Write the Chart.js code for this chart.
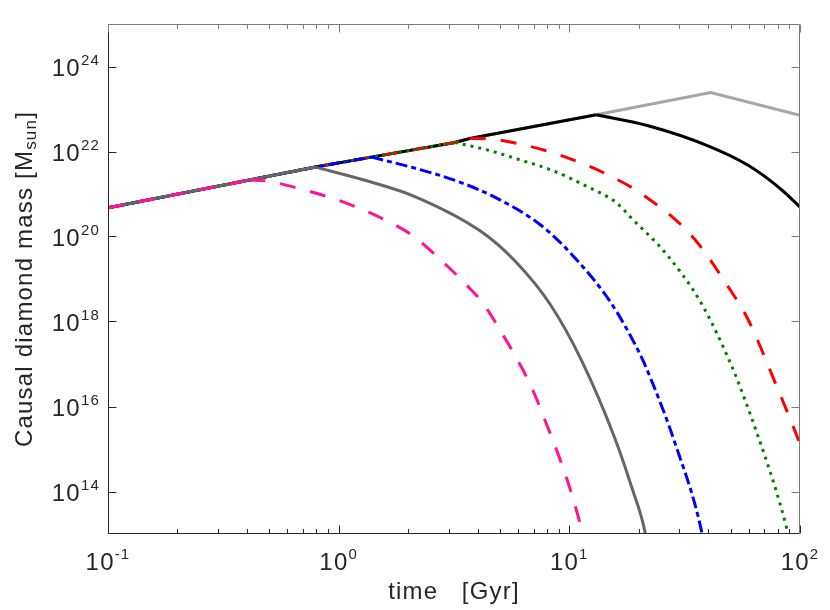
<!DOCTYPE html>
<html>
<head>
<meta charset="utf-8">
<script src="https://cdn.jsdelivr.net/npm/chart.js@4.4.1/dist/chart.umd.min.js"></script>
<style>
	html, body { margin: 0; padding: 0; background: #fff; }
	#wrap { width: 830px; height: 610px; }
</style>
</head>
<body>
<div id="wrap"><canvas id="chartMass" width="830" height="610"></canvas></div>
<script>
// Shared rising branch (time in Gyr, mass in M_sun)
const riseT = [0.1, 0.41, 0.793, 1.387, 3.19, 3.7, 13.1];
const riseM = [4.73e20, 2.13e21, 4.3e21, 7.38e21, 1.63e22, 2.03e22, 7.3e22];

// Falling branches
const pinkT = [0.478, 0.678, 0.943, 1.272, 1.717, 2.096, 2.972, 3.63, 4.22, 5.15, 6.29, 7.09, 7.83, 8.83, 9.85, 10.9, 11.2, 11.5, 11.8];
const pinkM = [2.05e21, 1.33e21, 7.9e20, 4.25e20, 1.99e20, 1.04e20, 1.97e19, 6.7e18, 2.71e18, 4.87e17, 7.3e16, 1.88e16, 4.86e15, 9.1e14, 1.69e14, 2.7e13, 1.56e13, 9.6e12, 5.5e12];

const grayT = [1.276, 2.138, 4.16, 5.8, 8.23, 11.29, 15.75, 18.61, 21.26, 21.7];
const grayM = [2.16e21, 8.7e20, 1.29e20, 2.68e19, 2.61e18, 1.22e17, 1.79e15, 1.29e14, 1.15e13, 5.6e12];

const blueT = [1.612, 2.138, 3.295, 4.91, 7.58, 10.56, 15.24, 20.2, 22.56, 28.68, 37.44, 38.3];
const blueM = [6.04e21, 4.06e21, 1.97e21, 7.7e20, 1.79e20, 3.16e19, 2.62e18, 1.74e17, 4.49e16, 1.4e15, 1.15e13, 5.6e12];

const greenT = [4.375, 6.1, 8.51, 11.87, 16.03, 18.61, 25.95, 37.44, 50.5, 57.7, 65.9, 72.8, 78.6, 87.5, 89.9];
const greenM = [1.1e22, 6.38e21, 3.52e21, 1.52e21, 6.2e20, 2.68e20, 4.25e19, 2.61e18, 9.1e16, 1.44e16, 1.94e15, 4.0e14, 1.1e14, 1.38e13, 7.2e12];

const redT = [4.68, 6.3, 8.51, 11.48, 15.6, 20.56, 33.9, 48.8, 59.6, 80.4, 87.7, 95.0, 100];
const redM = [1.94e22, 1.44e22, 9.3e21, 5.14e21, 2.41e21, 1.01e21, 1.04e20, 6.6e18, 1.1e18, 2.47e16, 7.9e15, 2.7e15, 1.32e15];

const blackT = [21.97, 39.9, 59.6, 83.2, 100];
const blackM = [4.03e22, 1.36e22, 4.73e21, 1.26e21, 4.92e20];

const lgrayT = [41, 100];
const lgrayM = [2.45e23, 7.1e22];

// Axis ticks
const xMajor = [0.1, 1, 10, 100];
const xExp = ["-1", "0", "1", "2"];
const yMajor = [1e14, 1e16, 1e18, 1e20, 1e22, 1e24];
const yExp = ["14", "16", "18", "20", "22", "24"];

const FONT = '"Liberation Sans", Arial, Helvetica, sans-serif';

// rising part of a curve, up to its kink
function risePart(kink) {
	const pts = [];
	for (let i = 0; i <= kink; i++) pts.push({ x: riseT[i], y: riseM[i] });
	return pts;
}

// falling part, starting at the kink
function tailPart(kink, tailT, tailM) {
	const pts = [{ x: riseT[kink], y: riseM[kink] }];
	tailT.forEach((t, i) => pts.push({ x: t, y: tailM[i] }));
	return pts;
}

function line(data, color, order, dash, smooth) {
	return {
		data: data,
		borderColor: color,
		borderWidth: 3,
		borderDash: dash || [],
		pointRadius: 0,
		tension: 0,
		cubicInterpolationMode: smooth ? "monotone" : "default",
		capBezierPoints: false,
		fill: false,
		order: order,
	};
}

// one curve = straight rising part + smooth falling part
function curve(kink, tailT, tailM, color, order, dash) {
	return [
		line(risePart(kink), color, order, dash, false),
		line(tailPart(kink, tailT, tailM), color, order, dash, true),
	];
}

// draws 10^exp, align "center" or "right"
function drawPow(ctx, exp, x, baseY, align) {
	ctx.font = "24px " + FONT;
	const wBase = ctx.measureText("10").width;
	ctx.font = "15px " + FONT;
	const wSup = ctx.measureText(exp).width;
	const total = wBase + wSup;
	const left = align === "right" ? x - total : x - total / 2;
	ctx.textAlign = "left";
	ctx.textBaseline = "alphabetic";
	ctx.font = "24px " + FONT;
	ctx.fillText("10", left, baseY);
	ctx.font = "15px " + FONT;
	ctx.fillText(exp, left + wBase, baseY - 11);
}

const axesPlugin = {
	id: "matlabAxes",
	afterDatasetsDraw(chart) {
		const ctx = chart.ctx;
		const a = chart.chartArea;
		const xs = chart.scales.x;
		const ys = chart.scales.y;
		const L = a.left + 0.5, R = a.right - 0.5, T = a.top + 0.5, B = a.bottom - 0.5;
		ctx.save();
		ctx.lineWidth = 1;

		// box
		ctx.strokeStyle = "#262626";
		ctx.beginPath();
		ctx.moveTo(L, T); ctx.lineTo(L, B); ctx.lineTo(R, B);
		ctx.stroke();
		ctx.strokeStyle = "#7a7a7a";
		ctx.beginPath();
		ctx.moveTo(L, T); ctx.lineTo(R, T); ctx.lineTo(R, B);
		ctx.stroke();

		// x ticks (major + minor), bottom and top, pointing inward
		const xTicks = [];
		xMajor.forEach((v) => xTicks.push({ v: v, len: 8 }));
		for (let d = 0; d < xMajor.length - 1; d++)
			for (let k = 2; k <= 9; k++) xTicks.push({ v: xMajor[d] * k, len: 4.5 });
		xTicks.forEach((tk) => {
			const px = Math.round(xs.getPixelForValue(tk.v)) + 0.5;
			ctx.strokeStyle = "#262626";
			ctx.beginPath(); ctx.moveTo(px, B); ctx.lineTo(px, B - tk.len); ctx.stroke();
			ctx.strokeStyle = "#7a7a7a";
			ctx.beginPath(); ctx.moveTo(px, T); ctx.lineTo(px, T + tk.len); ctx.stroke();
		});

		// y ticks, left and right
		yMajor.forEach((v) => {
			const py = Math.round(ys.getPixelForValue(v)) + 0.5;
			ctx.strokeStyle = "#262626";
			ctx.beginPath(); ctx.moveTo(L, py); ctx.lineTo(L + 8, py); ctx.stroke();
			ctx.strokeStyle = "#7a7a7a";
			ctx.beginPath(); ctx.moveTo(R, py); ctx.lineTo(R - 8, py); ctx.stroke();
		});

		// tick labels
		ctx.fillStyle = "#262626";
		ctx.letterSpacing = "1.2px";
		xMajor.forEach((v, i) => {
			drawPow(ctx, xExp[i], xs.getPixelForValue(v), 570, "center");
		});
		yMajor.forEach((v, i) => {
			const py = ys.getPixelForValue(v);
			drawPow(ctx, yExp[i], 100, py + 9.5, "right");
		});

		// x label
		ctx.font = "24px " + FONT;
		ctx.textAlign = "center";
		ctx.fillText("time   [Gyr]", (a.left + a.right) / 2, 598.5);

		// y label, rotated, with subscript
		const partA = "Causal diamond mass [M";
		const partSub = "sun";
		const partB = "]";
		ctx.font = "24px " + FONT;
		const wA = ctx.measureText(partA).width;
		const wB = ctx.measureText(partB).width;
		ctx.font = "17px " + FONT;
		const wS = ctx.measureText(partSub).width;
		const total = wA + wS + wB;
		ctx.translate(31.5, (a.top + a.bottom) / 2);
		ctx.rotate(-Math.PI / 2);
		ctx.textAlign = "left";
		let sx = -total / 2;
		ctx.font = "24px " + FONT;
		ctx.fillText(partA, sx, 0);
		sx += wA;
		ctx.font = "17px " + FONT;
		ctx.fillText(partSub, sx, 4);
		sx += wS;
		ctx.font = "24px " + FONT;
		ctx.fillText(partB, sx, 0);

		ctx.restore();
	},
};

const ctxMass = document.getElementById("chartMass");
new Chart(ctxMass, {
	type: "line",
	data: {
		datasets: [
			...curve(1, pinkT, pinkM, "#ff1493", 0, [16, 15]),
			...curve(2, grayT, grayM, "#666666", 1),
			...curve(3, blueT, blueM, "#0000ff", 2, [12, 4, 5, 4]),
			...curve(4, greenT, greenM, "#008000", 3, [3, 5]),
			...curve(5, redT, redM, "#ff0000", 4, [16, 15]),
			...curve(6, blackT, blackM, "#000000", 5),
			line(risePart(6), "#a6a6a6", 6),
			line(tailPart(6, lgrayT, lgrayM), "#a6a6a6", 6),
		],
	},
	options: {
		responsive: false,
		animation: false,
		events: [],
		layout: { padding: { left: 108, right: 30, top: 24, bottom: 76 } },
		scales: {
			x: { type: "logarithmic", min: 0.1, max: 100, display: false },
			y: { type: "logarithmic", min: 1e13, max: 1e25, display: false },
		},
		plugins: {
			legend: { display: false },
			tooltip: { enabled: false },
		},
	},
	plugins: [axesPlugin],
});
</script>
</body>
</html>
